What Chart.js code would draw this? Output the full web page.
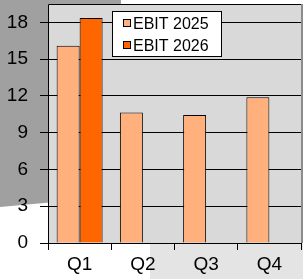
<!DOCTYPE html>
<html>
<head>
<meta charset="utf-8">
<script src="https://cdn.jsdelivr.net/npm/chart.js@4"></script>
<style>
  html, body { margin: 0; padding: 0; background: #ffffff; }
  #wrap { width: 303px; height: 279px; position: relative; }
</style>
</head>
<body>
<div id="wrap"><canvas id="c" width="303" height="279"></canvas></div>
<script>
// ---- data ----
const categories = ["Q1", "Q2", "Q3", "Q4"];
const seriesNames = ["EBIT 2025", "EBIT 2026"];
const ebit2025 = [16.1, 10.65, 10.45, 11.9];
const ebit2026 = [18.35, null, null, null];
const yTicks = [0, 3, 6, 9, 12, 15, 18];
const yMax = 19.5;

const FONT = "'Liberation Sans', Arial, sans-serif";

const backdrop = {
  id: 'backdrop',
  beforeDraw(chart) {
    const ctx = chart.ctx;
    const a = chart.chartArea;
    ctx.save();
    ctx.fillStyle = '#a0a0a0';
    ctx.beginPath();
    ctx.moveTo(0, 0);
    ctx.lineTo(121, 0);
    ctx.lineTo(121, 196);
    ctx.lineTo(0, 207);
    ctx.closePath();
    ctx.fill();
    ctx.fillStyle = '#e4e4e4';
    ctx.fillRect(150, a.bottom, chart.width - 150, chart.height - a.bottom);
    ctx.fillStyle = '#d9d9d9';
    ctx.fillRect(a.left, a.top, a.right - a.left, a.bottom - a.top);
    ctx.fillStyle = '#8c8c8c';
    ctx.fillRect(a.right, a.top, chart.width - a.right, a.bottom - a.top);
    ctx.restore();
  },
  afterDatasetsDraw(chart) {
    const ctx = chart.ctx;
    const a = chart.chartArea;
    ctx.save();
    ctx.strokeStyle = '#000000';
    ctx.lineWidth = 1;
    ctx.beginPath();
    ctx.moveTo(a.left + 0.5, a.bottom);
    ctx.lineTo(a.left + 0.5, a.top + 0.5);
    ctx.lineTo(a.right, a.top + 0.5);
    ctx.stroke();
    ctx.beginPath();
    ctx.moveTo(a.left, a.bottom + 0.5);
    ctx.lineTo(a.right, a.bottom + 0.5);
    ctx.stroke();
    ctx.restore();
  },
  afterDraw(chart) {
    const ctx = chart.ctx;
    ctx.save();
    const bx = 112.5, by = 11.5, bw = 109, bh = 45;
    ctx.fillStyle = '#ffffff';
    ctx.fillRect(bx, by, bw, bh);
    ctx.strokeStyle = '#000000';
    ctx.lineWidth = 1;
    ctx.strokeRect(bx, by, bw, bh);
    ctx.font = '16px ' + FONT;
    ctx.textBaseline = 'middle';
    chart.data.datasets.forEach((ds, i) => {
      const cy = 23.5 + i * 22;
      ctx.fillStyle = ds.backgroundColor;
      ctx.fillRect(123.5, cy - 4, 7, 7);
      ctx.strokeStyle = '#000000';
      ctx.strokeRect(123.5, cy - 4, 7, 7);
      ctx.fillStyle = '#000000';
      ctx.fillText(ds.label, 133, cy + 1);
    });
    ctx.restore();
  }
};

new Chart(document.getElementById('c'), {
  type: 'bar',
  data: {
    labels: categories,
    datasets: [
      { label: seriesNames[0], data: ebit2025, backgroundColor: '#ffb07c', borderColor: '#000000', borderWidth: 1 },
      { label: seriesNames[1], data: ebit2026, backgroundColor: '#ff6600', borderColor: '#000000', borderWidth: 1 }
    ]
  },
  options: {
    responsive: false,
    animation: false,
    devicePixelRatio: 1,
    layout: { padding: { top: 4, right: 2, left: 0, bottom: 0 } },
    datasets: { bar: { categoryPercentage: 0.727, barPercentage: 1.0 } },
    plugins: { legend: { display: false }, tooltip: { enabled: false } },
    scales: {
      x: {
        type: 'category',
        offset: true,
        border: { display: false },
        grid: { offset: true, drawOnChartArea: false, drawTicks: true, tickLength: 7, color: '#000000' },
        ticks: { color: '#000000', font: { family: FONT, size: 19 }, padding: 3, maxRotation: 0 },
        afterFit(s) { s.height = 36; s.paddingLeft = 0; s.paddingRight = 0; }
      },
      y: {
        type: 'linear',
        min: 0,
        max: yMax,
        bounds: 'data',
        border: { display: false },
        grid: { color: '#000000', lineWidth: 1, tickLength: 8, drawTicks: true },
        ticks: { color: '#000000', font: { family: FONT, size: 19 }, padding: 12 },
        afterBuildTicks(s) {
          s.ticks = yTicks.map(v => ({ value: v }));
          s.min = 0;
          s.max = yMax;
        },
        afterFit(s) { s.width = 48; s.paddingTop = 0; s.paddingBottom = 0; }
      }
    }
  },
  plugins: [backdrop]
});
</script>
</body>
</html>
